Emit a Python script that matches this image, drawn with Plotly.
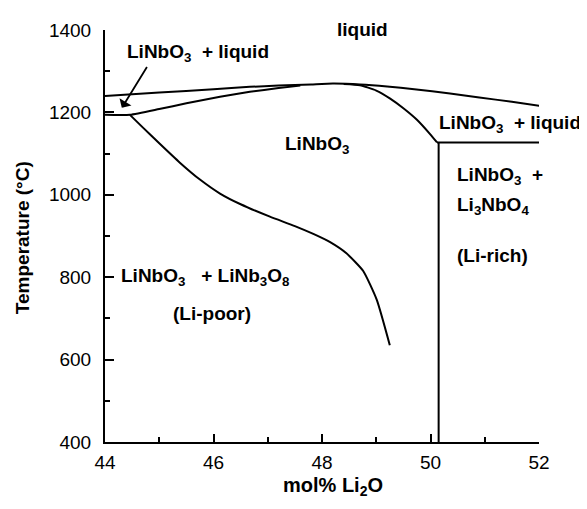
import plotly.graph_objects as go

# Liquidus (upper curve)
liquidus_x = [44.0, 45.0, 46.0, 46.67, 47.2, 47.8, 48.2, 48.7, 49.2, 49.7, 50.36, 50.9, 51.5, 52.15]
liquidus_T = [1240, 1248, 1256, 1262, 1265, 1268, 1270, 1268, 1263, 1256, 1246, 1236, 1226, 1213]

# Solidus on Li-poor side (lower branch of the two-phase lens)
solidus_left_x = [44.0, 44.46, 45.0, 45.5, 46.12, 46.67, 47.2, 47.6]
solidus_left_T = [1194, 1194, 1208, 1222, 1238, 1250, 1259, 1265]

# Solidus on Li-rich side
solidus_right_x = [48.4, 48.7, 49.0, 49.25, 49.5, 49.75, 50.0, 50.12]
solidus_right_T = [1269, 1266, 1253, 1234, 1210, 1182, 1146, 1127]

# Eutectic line (Li-rich side) and vertical phase boundary
eutectic_x = [50.12, 52.15]
eutectic_T = [1127, 1127]
vertical_x = [50.15, 50.15]
vertical_T = [1127, 400]

# Solvus (Li-poor boundary)
solvus_x = [44.46, 44.7, 45.0, 45.38, 45.75, 46.12, 46.5, 47.04, 47.5, 47.84, 48.15, 48.45, 48.76, 49.01, 49.25]
solvus_T = [1194, 1163, 1125, 1078, 1037, 1003, 977, 947, 924, 905, 885, 858, 815, 745, 635]

x_ticks = [44, 46, 48, 50, 52]
y_ticks = [400, 600, 800, 1000, 1200, 1400]

FONT = "Arial, Liberation Sans, Helvetica, sans-serif"
line_style = dict(color="black", width=2)

fig = go.Figure()
for xs, ts in [(liquidus_x, liquidus_T), (solidus_left_x, solidus_left_T),
               (solidus_right_x, solidus_right_T), (eutectic_x, eutectic_T),
               (vertical_x, vertical_T), (solvus_x, solvus_T)]:
    fig.add_trace(go.Scatter(x=xs, y=ts, mode="lines", line=dict(line_style, shape="spline", smoothing=0.5),
                             showlegend=False, hoverinfo="skip", cliponaxis=False))

labels = [
    ("LiNbO<sub>3</sub>\u00a0 + liquid", 45.71, 1345, "center"),
    ("LiNbO<sub>3</sub>", 47.91, 1122, "center"),
    ("LiNbO<sub>3</sub>\u00a0 +", 50.45, 1046, "left"),
    ("Li<sub>3</sub>NbO<sub>4</sub>", 50.45, 972, "left"),
    ("(Li-rich)", 50.45, 852, "left"),
    ("LiNbO<sub>3</sub>\u00a0\u00a0 + LiNb<sub>3</sub>O<sub>8</sub>", 44.26, 800, "left"),
    ("(Li-poor)", 45.97, 711, "center"),
]
annotations = []
for text, x, t, anchor in labels:
    annotations.append(dict(text="<b>" + text + "</b>", x=x, y=t, xref="x", yref="y", showarrow=False,
                            xanchor=anchor, yanchor="middle",
                            font=dict(family=FONT, size=19, color="black")))

# Labels that extend beyond the axis range -> paper coordinates
annotations.append(dict(text="<b>liquid</b>", x=0.594, y=1.002, xref="paper", yref="paper",
                        showarrow=False, xanchor="center", yanchor="middle",
                        font=dict(family=FONT, size=19, color="black")))
annotations.append(dict(text="<b>LiNbO<sub>3</sub>\u00a0 + liquid</b>", x=1.101, y=0.773,
                        xref="paper", yref="paper", showarrow=False, xanchor="right", yanchor="middle",
                        font=dict(family=FONT, size=19, color="black")))

# Arrow pointing into the narrow two-phase region
annotations.append(dict(x=44.31, y=1211, ax=44.79, ay=1314, xref="x", yref="y",
                        axref="x", ayref="y", text="", showarrow=True,
                        arrowhead=1, arrowsize=1.3, arrowwidth=1.8, arrowcolor="black"))

# Axis titles
annotations.append(dict(text="<b>Temperature (°C)</b>", x=-0.191, y=0.495, xref="paper", yref="paper",
                        showarrow=False, textangle=-90, xanchor="center", yanchor="middle",
                        font=dict(family=FONT, size=19, color="black")))
annotations.append(dict(text="<b>mol% Li<sub>2</sub>O</b>", x=0.525, y=-0.108, xref="paper", yref="paper",
                        showarrow=False, xanchor="center", yanchor="middle",
                        font=dict(family=FONT, size=20, color="black")))

# The page body has a default 8px margin, so the figure is sized/offset to compensate
fig.update_layout(
    width=579, height=501,
    margin=dict(l=97, r=48, t=16, b=67),
    paper_bgcolor="white", plot_bgcolor="white",
    annotations=annotations,
    font=dict(family=FONT, size=19, color="black"),
)
fig.update_xaxes(range=[44, 52], tickvals=x_ticks, ticktext=[str(v) for v in x_ticks],
                 showgrid=False, zeroline=False, showline=True, linecolor="black", linewidth=2,
                 ticks="inside", ticklen=8, tickwidth=2, tickcolor="black",
                 minor=dict(dtick=1, ticks="inside", ticklen=5, tickwidth=1.5, tickcolor="black"),
                 ticklabelstandoff=2,
                 tickfont=dict(family=FONT, size=19, color="black"))
fig.update_yaxes(range=[400, 1400], tickvals=y_ticks, ticktext=[str(v) for v in y_ticks],
                 showgrid=False, zeroline=False, showline=True, linecolor="black", linewidth=2,
                 ticks="inside", ticklen=9, tickwidth=2, tickcolor="black",
                 minor=dict(dtick=100, ticks="inside", ticklen=5, tickwidth=1.5, tickcolor="black"),
                 ticklabelstandoff=8,
                 tickfont=dict(family=FONT, size=19, color="black"))

fig.write_html("out.html")
